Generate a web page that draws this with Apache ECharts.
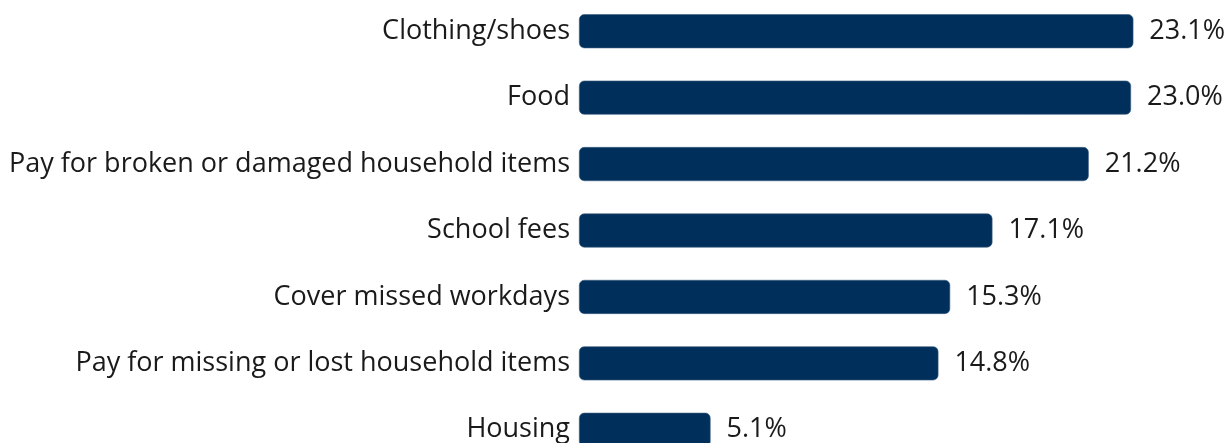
<!DOCTYPE html>
<html>
<head>
<meta charset="utf-8">
<script src="https://cdn.jsdelivr.net/npm/echarts@6/dist/echarts.min.js"></script>
<style>
  html, body { margin: 0; padding: 0; background: #ffffff; }
  #chart { width: 1228px; height: 443px; }
</style>
</head>
<body>
<div id="chart"></div>
<script>
// Share of respondents by spending category (%)
const categories = [
  'Clothing/shoes',
  'Food',
  'Pay for broken or damaged household items',
  'School fees',
  'Cover missed workdays',
  'Pay for missing or lost household items',
  'Housing'
];
const values = [23.1, 23.0, 21.2, 17.1, 15.3, 14.8, 5.1];

const FONT = 'Open Sans';
const chart = echarts.init(document.getElementById('chart'));
chart.setOption({
  animation: false,
  grid: {
    left: 579, width: 599, top: -2, height: 465,
    containLabel: false,
    outerBoundsMode: 'none'
  },
  xAxis: {
    type: 'value',
    min: -0.5,
    max: 25,
    startValue: -0.5,
    show: false
  },
  yAxis: {
    type: 'category',
    data: categories,
    inverse: true,
    axisLine: { show: false },
    axisTick: { show: false },
    axisLabel: {
      margin: 9,
      color: '#1a1a1a',
      fontFamily: FONT,
      fontSize: 27
    }
  },
  series: [{
    type: 'bar',
    data: values,
    barWidth: 34,
    itemStyle: {
      color: '#002f5c',
      borderColor: '#3d5f82',
      borderWidth: 0.6,
      borderRadius: 5
    },
    label: {
      show: true,
      position: 'right',
      distance: 16,
      color: '#1a1a1a',
      fontFamily: FONT,
      fontSize: 27,
      formatter: p => p.value.toFixed(1) + '%'
    }
  }]
});
</script>
</body>
</html>
